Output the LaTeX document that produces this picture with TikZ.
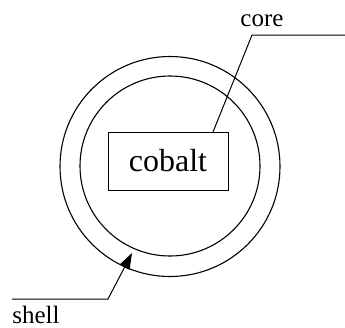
\documentclass[tikz,border=0pt]{standalone}
\usepackage{fontspec}
\setmainfont{Liberation Serif}
\usetikzlibrary{arrows.meta}
\begin{document}
\begin{tikzpicture}[x=1pt,y=-1pt,
  ring/.style={circle,draw,line width=1.1pt,inner sep=0pt},
  leader/.style={draw,line width=1pt},
  lbl/.style={font=\fontsize{25}{30}\selectfont,inner sep=0pt,anchor=base}]
\useasboundingbox (0,0) rectangle (345,327);
\node[ring,minimum size=220] (outer) at (170,166.5) {};
\node[ring,minimum size=180] (inner) at (170,166) {};
\node[draw,line width=1pt,minimum width=120,minimum height=58,inner sep=0pt,
  font=\fontsize{32}{38}\selectfont] (cobalt) at (168,161) {cobalt};
\node[lbl] (core) at (262,26) {core};
\node[lbl] (shell) at (36,323) {shell};
\coordinate (coreend) at (345,35);
\coordinate (corebend) at (252,35);
\coordinate (coretip) at (213,132);
\coordinate (shellend) at (12,299);
\coordinate (shellbend) at (108,299);
\coordinate (shelltip) at (132,253);
\draw[leader] (coreend) -- (corebend) -- (coretip);
\draw[leader,-{Triangle[length=16pt,width=11pt]}] (shellend) -- (shellbend) -- (shelltip);
\end{tikzpicture}
\end{document}
